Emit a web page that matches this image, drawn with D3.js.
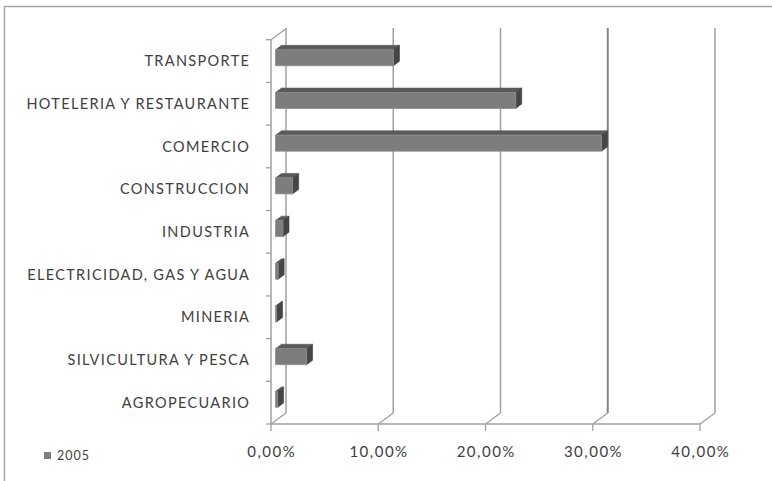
<!DOCTYPE html>
<html><head><meta charset="utf-8">
<script src="https://cdn.jsdelivr.net/npm/d3@7"></script>
<style>html,body{margin:0;padding:0;background:#fff}svg{display:block}</style>
</head><body>
<script>
const categories = ["TRANSPORTE","HOTELERIA Y RESTAURANTE","COMERCIO","CONSTRUCCION","INDUSTRIA","ELECTRICIDAD, GAS Y AGUA","MINERIA","SILVICULTURA Y PESCA","AGROPECUARIO"];
const values2005 = [0.110, 0.224, 0.304, 0.016, 0.007, 0.0025, 0.001, 0.029, 0.002];
const tickValues = [0, 0.1, 0.2, 0.3, 0.4];
const seriesName = "2005";

const W = 772, H = 481;
const svg = d3.select("body").append("svg").attr("width", W).attr("height", H);
svg.append("rect").attr("x",4.5).attr("y",6.5).attr("width",W+10).attr("height",H+10)
  .attr("fill","#fff").attr("stroke","#a6a6a6").attr("stroke-width",1.5);

const x = d3.scaleLinear().domain([0,0.4]).range([271,700]);
const y = d3.scaleBand().domain(categories).range([39.7,424]);
const DX = 15, DY = -11;
const P = (px, py, f) => [px + DX*f, py + DY*f];
const fmt = v => d3.format(".2f")(v*100).replace(".", ",") + "%";

const gridCol = "#a0a0a0";
// back wall gridlines
tickValues.forEach(t => {
  const [bx, by] = P(x(t), 424, 1);
  svg.append("line").attr("x1",bx).attr("x2",bx).attr("y1",28).attr("y2",by)
    .attr("stroke", t===0.3 ? "#858585" : gridCol).attr("stroke-width", t===0.3 ? 2 : 1.5);
  svg.append("line").attr("x1",x(t)).attr("y1",424).attr("x2",bx).attr("y2",by)
    .attr("stroke",gridCol).attr("stroke-width",1.3);
  svg.append("line").attr("x1",x(t)).attr("x2",x(t)).attr("y1",424).attr("y2",431)
    .attr("stroke",gridCol).attr("stroke-width",1.3);
  svg.append("text").attr("x",x(t)+0.75).attr("y",453).attr("text-anchor","middle")
    .attr("dominant-baseline","middle").attr("font-family","Lato, sans-serif")
    .attr("font-size",15).attr("letter-spacing",1.5).attr("fill","#404040").text(fmt(t));
});
svg.append("line").attr("x1",x(0)).attr("x2",x(0.4)).attr("y1",424).attr("y2",424)
  .attr("stroke",gridCol).attr("stroke-width",1.3);
// left wall
svg.append("line").attr("x1",271).attr("x2",271).attr("y1",39.7).attr("y2",424)
  .attr("stroke",gridCol).attr("stroke-width",1.5);
svg.append("line").attr("x1",271).attr("y1",39.7).attr("x2",286).attr("y2",28.7)
  .attr("stroke",gridCol).attr("stroke-width",1.3);
const bounds = categories.map(c => y(c)).concat([424]);
bounds.forEach(b => {
  svg.append("line").attr("x1",266).attr("x2",271).attr("y1",b).attr("y2",b)
    .attr("stroke",gridCol).attr("stroke-width",1.3);
});
categories.forEach(c => {
  svg.append("text").attr("x",250.3).attr("y",y(c)+y.bandwidth()/2+1.5)
    .attr("text-anchor","end").attr("dominant-baseline","middle")
    .attr("font-family","Lato, sans-serif").attr("font-size",14.5).attr("letter-spacing",1.35)
    .attr("fill","#404040").text(c);
});

// bars
const f1 = 0.3, f2 = 0.7, bh = 16;
const poly = pts => pts.map(p => p.join(",")).join(" ");
categories.forEach((c, i) => {
  const v = values2005[i];
  const cy = y(c) + y.bandwidth()/2;
  const a = P(x(0), cy - bh/2, f1), b = P(x(v), cy - bh/2, f1),
        cc = P(x(v), cy + bh/2, f1), d = P(x(0), cy + bh/2, f1);
  const a2 = P(x(0), cy - bh/2, f2), b2 = P(x(v), cy - bh/2, f2), c2 = P(x(v), cy + bh/2, f2);
  const g = svg.append("g");
  g.append("polygon").attr("points", poly([a,b,b2,a2])).attr("fill","#5a5a5a").attr("stroke","#5a5a5a").attr("stroke-width",0.6);
  g.append("polygon").attr("points", poly([b,b2,c2,cc])).attr("fill","#454545").attr("stroke","#454545").attr("stroke-width",0.6);
  g.append("polygon").attr("points", poly([a,b,cc,d])).attr("fill","#7d7d7d").attr("stroke","#8c8c8c").attr("stroke-width",0.8);
});

// legend
svg.append("rect").attr("x",44).attr("y",452).attr("width",7).attr("height",7).attr("fill","#7d7d7d");
svg.append("text").attr("x",57).attr("y",456.5).attr("dominant-baseline","middle")
  .attr("font-family","Lato, sans-serif").attr("font-size",12.5).attr("letter-spacing",1)
  .attr("fill","#404040").text(seriesName);
</script>
</body></html>
